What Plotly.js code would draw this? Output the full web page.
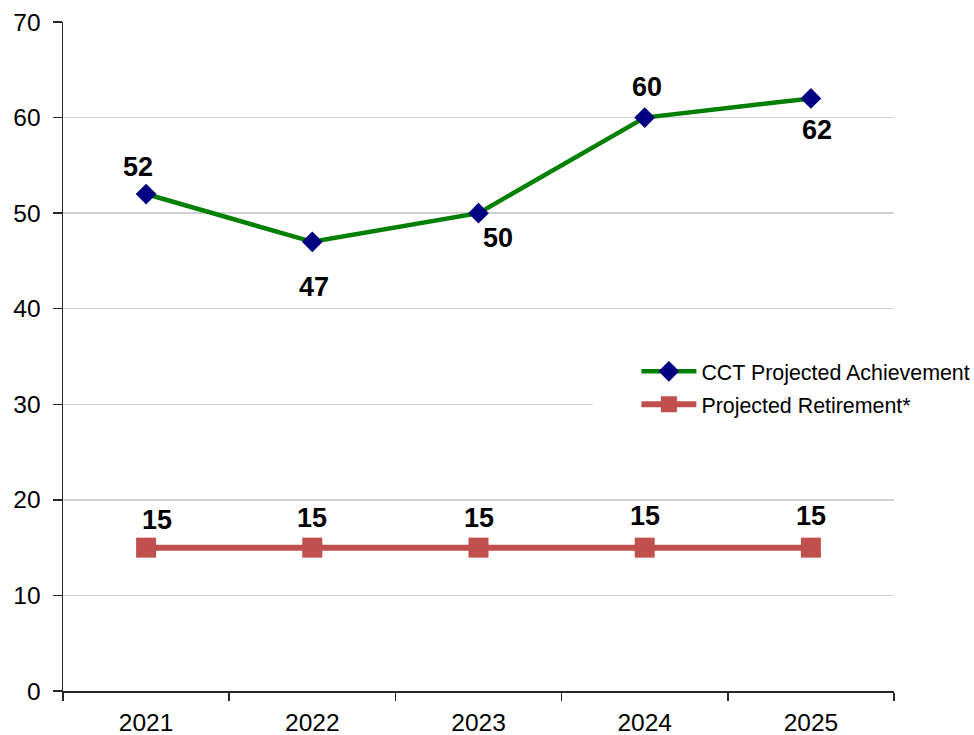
<!DOCTYPE html>
<html>
<head>
<meta charset="utf-8">
<script src="https://cdn.plot.ly/plotly-3.0.1.min.js"></script>
<style>
  html, body { margin: 0; padding: 0; background: #ffffff; }
  #chart { width: 974px; height: 735px; }
</style>
</head>
<body>
<div id="chart"></div>
<script>
// ---- data ----
const years = ['2021', '2022', '2023', '2024', '2025'];
const cctValues = [52, 47, 50, 60, 62];
const retirementValues = [15, 15, 15, 15, 15];
const seriesNames = ['CCT Projected Achievement', 'Projected Retirement*'];
const yTicks = [0, 10, 20, 30, 40, 50, 60, 70];

// ---- style: label offsets in pixels [xshift, yshift] ----
const cctLabelShift = [[-8, 27], [2, -45], [19, -25], [2, 31], [6, -32]];
const retLabelShift = [[11, 28], [0, 30], [0, 30], [0, 32], [0, 32]];

const FONT = 'Arial, "Liberation Sans", sans-serif';
const GREEN = '#008000';
const NAVY = '#000080';
const RED = '#C0504D';

const traces = [
  {
    type: 'scatter', mode: 'lines+markers',
    x: years, y: cctValues, name: seriesNames[0],
    line: { color: GREEN, width: 4.5 },
    marker: { symbol: 'diamond', size: 16, color: NAVY, line: { width: 0 } },
    legendgroup: 'a'
  },
  {
    type: 'scatter', mode: 'lines+markers',
    x: years, y: retirementValues, name: seriesNames[1],
    line: { color: RED, width: 6 },
    marker: { symbol: 'square', size: 20, color: RED, line: { width: 0 } },
    legendgroup: 'b'
  }
];

const annotations = [];
years.forEach(function (yr, i) {
  annotations.push({
    x: i, y: cctValues[i], xref: 'x', yref: 'y',
    text: '<b>' + cctValues[i] + '</b>', showarrow: false,
    xshift: cctLabelShift[i][0], yshift: cctLabelShift[i][1],
    font: { family: FONT, size: 27, color: '#000000' }
  });
  annotations.push({
    x: i, y: retirementValues[i], xref: 'x', yref: 'y',
    text: '<b>' + retirementValues[i] + '</b>', showarrow: false,
    xshift: retLabelShift[i][0], yshift: retLabelShift[i][1],
    font: { family: FONT, size: 27, color: '#000000' }
  });
});

const layout = {
  width: 974, height: 735,
  margin: { l: 63, r: 80, t: 22, b: 44, pad: 0, autoexpand: false },
  paper_bgcolor: '#ffffff', plot_bgcolor: '#ffffff',
  font: { family: FONT, color: '#000000' },
  showlegend: true,
  legend: {
    x: 0.69, y: 0.453, xanchor: 'left', yanchor: 'middle',
    bgcolor: '#ffffff', borderwidth: 0,
    font: { family: FONT, size: 21.4, color: '#000000' },
    traceorder: 'grouped', tracegroupgap: 2,
    itemwidth: 55
  },
  xaxis: {
    type: 'category',
    range: [-0.5, 4.5],
    showline: true, linecolor: '#262626', linewidth: 1.5,
    ticks: 'outside', tickson: 'boundaries', ticklen: 8, tickwidth: 1.5, tickcolor: '#262626',
    showgrid: false, zeroline: false,
    tickfont: { family: FONT, size: 24.5, color: '#000000' },
    ticklabelstandoff: 9,
    fixedrange: true
  },
  yaxis: {
    range: [0, 70],
    tickvals: yTicks, ticktext: yTicks.map(String),
    showline: true, linecolor: '#262626', linewidth: 1.5,
    ticks: 'outside', ticklen: 9, tickwidth: 1.5, tickcolor: '#262626',
    showgrid: true, gridcolor: '#d0d0d0', gridwidth: 1.5,
    zeroline: false,
    tickfont: { family: FONT, size: 24.5, color: '#000000' },
    ticklabelstandoff: 7,
    fixedrange: true
  },
  shapes: [
    { type: 'rect', xref: 'paper', yref: 'paper', layer: 'above',
      x0: (593 - 63) / 831, x1: 1.0, y0: (691 - 425) / 669, y1: (691 - 352) / 669,
      fillcolor: '#ffffff', line: { width: 0 } }
  ],
  annotations: annotations
};

Plotly.newPlot('chart', traces, layout, { displayModeBar: false, staticPlot: true });
</script>
</body>
</html>
